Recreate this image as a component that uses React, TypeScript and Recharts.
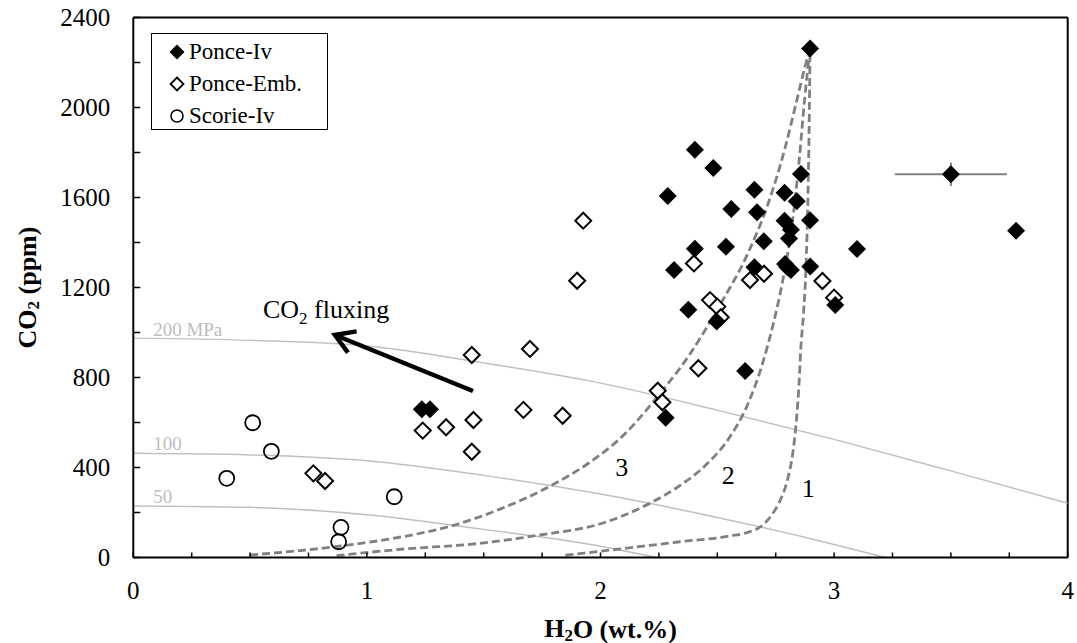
import React from 'react'
import {
  ComposedChart,
  Line,
  Scatter,
  XAxis,
  YAxis,
  ReferenceLine,
  ReferenceDot,
  Legend,
  ErrorBar,
} from 'recharts'

const FONT = '"Liberation Serif", "Times New Roman", Times, serif'

// melt inclusions, H2O (wt.%) vs CO2 (ppm)
const ponceIv = [
  { x: 2.897, y: 2262 }, { x: 2.404, y: 1812 }, { x: 2.483, y: 1731 }, { x: 2.288, y: 1607 },
  { x: 2.858, y: 1704 }, { x: 2.659, y: 1635 }, { x: 2.788, y: 1621 }, { x: 2.84, y: 1583 },
  { x: 2.56, y: 1549 }, { x: 2.67, y: 1534 }, { x: 2.788, y: 1497 }, { x: 2.897, y: 1499 },
  { x: 2.815, y: 1457 }, { x: 2.807, y: 1418 }, { x: 2.699, y: 1406 }, { x: 2.404, y: 1372 },
  { x: 2.537, y: 1381 }, { x: 3.098, y: 1371 }, { x: 2.315, y: 1278 }, { x: 2.659, y: 1290 },
  { x: 2.79, y: 1305 }, { x: 2.8, y: 1290 }, { x: 2.815, y: 1278 }, { x: 2.898, y: 1293 },
  { x: 2.376, y: 1101 }, { x: 2.497, y: 1049 }, { x: 3.005, y: 1122 }, { x: 2.619, y: 829 },
  { x: 2.279, y: 621 }, { x: 1.235, y: 659 }, { x: 1.27, y: 659 }, { x: 3.779, y: 1452 },
]
const ponceIvWithError = [{ x: 3.5, y: 1703, xErr: 0.24, yErr: 52 }]

const ponceEmb = [
  { x: 1.926, y: 1497 }, { x: 1.9, y: 1230 }, { x: 2.4, y: 1307 }, { x: 2.7, y: 1261 },
  { x: 2.64, y: 1233 }, { x: 2.95, y: 1229 }, { x: 3.0, y: 1155 }, { x: 2.469, y: 1144 },
  { x: 2.5, y: 1115 }, { x: 2.515, y: 1068 }, { x: 2.419, y: 841 }, { x: 2.245, y: 741 },
  { x: 2.265, y: 690 }, { x: 1.449, y: 900 }, { x: 1.698, y: 927 }, { x: 1.67, y: 656 },
  { x: 1.838, y: 630 }, { x: 1.456, y: 611 }, { x: 1.449, y: 470 }, { x: 1.239, y: 564 },
  { x: 1.339, y: 579 }, { x: 0.771, y: 374 }, { x: 0.821, y: 340 },
]

const scorieIv = [
  { x: 0.511, y: 599 }, { x: 0.591, y: 472 }, { x: 0.4, y: 352 },
  { x: 1.117, y: 270 }, { x: 0.889, y: 134 }, { x: 0.879, y: 70 },
]

// isobars (MPa)
const iso200 = [
  { x: 0, y: 975 }, { x: 0.5, y: 965 }, { x: 1, y: 940 }, { x: 1.5, y: 865 }, { x: 2, y: 775 },
  { x: 2.5, y: 655 }, { x: 3, y: 525 }, { x: 3.5, y: 385 }, { x: 4, y: 241 },
]
const iso100 = [
  { x: 0, y: 463 }, { x: 0.5, y: 456 }, { x: 1, y: 430 }, { x: 1.5, y: 365 },
  { x: 2, y: 282 }, { x: 2.5, y: 178 }, { x: 3, y: 58 }, { x: 3.22, y: 0 },
]
const iso50 = [
  { x: 0, y: 229 }, { x: 0.5, y: 223 }, { x: 1, y: 190 }, { x: 1.5, y: 125 },
  { x: 2, y: 50 }, { x: 2.24, y: 0 },
]

// degassing paths
const path1 = [
  { x: 1.85, y: 10 }, { x: 2.1, y: 40 }, { x: 2.34, y: 70 }, { x: 2.55, y: 95 }, { x: 2.64, y: 115 },
  { x: 2.69, y: 140 }, { x: 2.73, y: 185 }, { x: 2.77, y: 256 }, { x: 2.8, y: 344 }, { x: 2.825, y: 478 },
  { x: 2.84, y: 626 }, { x: 2.85, y: 774 }, { x: 2.857, y: 922 }, { x: 2.868, y: 1070 }, { x: 2.88, y: 1300 },
  { x: 2.888, y: 1600 }, { x: 2.893, y: 1900 }, { x: 2.897, y: 2260 },
]
const path2 = [
  { x: 0.87, y: 8 }, { x: 1.14, y: 36 }, { x: 1.484, y: 63 }, { x: 1.741, y: 100 }, { x: 2.0, y: 150 },
  { x: 2.2, y: 235 }, { x: 2.34, y: 320 }, { x: 2.45, y: 410 }, { x: 2.55, y: 530 }, { x: 2.63, y: 680 },
  { x: 2.69, y: 850 }, { x: 2.74, y: 1040 }, { x: 2.78, y: 1230 }, { x: 2.82, y: 1480 },
  { x: 2.85, y: 1760 }, { x: 2.875, y: 2050 }, { x: 2.897, y: 2260 },
]
const path3 = [
  { x: 0.5, y: 11 }, { x: 0.88, y: 50 }, { x: 1.14, y: 90 }, { x: 1.36, y: 140 }, { x: 1.57, y: 215 },
  { x: 1.78, y: 315 }, { x: 1.95, y: 420 }, { x: 2.1, y: 545 }, { x: 2.24, y: 710 }, { x: 2.38, y: 900 },
  { x: 2.51, y: 1120 }, { x: 2.63, y: 1350 }, { x: 2.72, y: 1580 }, { x: 2.79, y: 1820 },
  { x: 2.84, y: 2030 }, { x: 2.875, y: 2180 }, { x: 2.897, y: 2260 },
]

const xTicks = [0, 0.25, 0.5, 0.75, 1, 1.25, 1.5, 1.75, 2, 2.25, 2.5, 2.75, 3, 3.25, 3.5, 3.75, 4]
const yTicks = [0, 200, 400, 600, 800, 1000, 1200, 1400, 1600, 1800, 2000, 2200, 2400]
const yLabelled = [0, 400, 800, 1200, 1600, 2000, 2400]
const legendOrder = ['Ponce-Iv', 'Ponce-Emb.', 'Scorie-Iv']

const diamondPts = (cx: number, cy: number, r: number) =>
  `${cx},${cy - r} ${cx + r},${cy} ${cx},${cy + r} ${cx - r},${cy}`

const FilledDiamond = (p: any) => <polygon points={diamondPts(p.cx, p.cy, 9)} fill="#000" />
const OpenDiamond = (p: any) => (
  <polygon points={diamondPts(p.cx, p.cy, 8)} fill="#fff" stroke="#000" strokeWidth={2} />
)
const OpenCircle = (p: any) => (
  <circle cx={p.cx} cy={p.cy} r={7.5} fill="none" stroke="#000" strokeWidth={1.8} />
)

function XTick({ x, y, payload }: any) {
  const v = payload.value
  return (
    <g>
      <line x1={x} y1={y} x2={x} y2={y - 5} stroke="#000" strokeWidth={1.5} />
      {Number.isInteger(v) && (
        <text x={x} y={y + 33} textAnchor="middle" dominantBaseline="central"
          fontFamily={FONT} fontSize={25} fill="#000">{v}</text>
      )}
    </g>
  )
}

function YTick({ x, y, payload }: any) {
  const v = payload.value
  return (
    <g>
      <line x1={x} y1={y} x2={x + 7} y2={y} stroke="#000" strokeWidth={1.5} />
      {yLabelled.includes(v) && (
        <text x={x - 23} y={y} textAnchor="end" dominantBaseline="central"
          fontFamily={FONT} fontSize={25} fill="#000">{v}</text>
      )}
    </g>
  )
}

function XTitle(props: any) {
  const vb = props.viewBox || { x: 133.3, y: 557.5, width: 934.4 }
  return (
    <text x={vb.x + vb.width / 2 + 10} y={vb.y + 71} textAnchor="middle" dominantBaseline="central"
      fontFamily={FONT} fontSize={26} fontWeight="bold" fill="#000">
      H<tspan fontSize={17} dy={6}>2</tspan><tspan dy={-6}>O (wt.%)</tspan>
    </text>
  )
}

function YTitle(props: any) {
  const vb = props.viewBox || { y: 17.5, height: 540 }
  const cx = 27
  const cy = vb.y + vb.height / 2
  return (
    <text x={cx} y={cy} transform={`rotate(-90, ${cx}, ${cy})`} textAnchor="middle"
      dominantBaseline="central" fontFamily={FONT} fontSize={26} fontWeight="bold" fill="#000">
      CO<tspan fontSize={17} dy={6}>2</tspan><tspan dy={-6}> (ppm)</tspan>
    </text>
  )
}

function FluxLabel(props: any) {
  const vb = props.viewBox
  return (
    <text x={vb.x} y={vb.y} fontFamily={FONT} fontSize={26} fill="#000">
      CO<tspan fontSize={17} dy={6}>2</tspan><tspan dy={-6}> fluxing</tspan>
    </text>
  )
}

function Arrow(props: any) {
  const { x1, y1, x2, y2 } = props
  const ang = Math.atan2(y1 - y2, x1 - x2)
  const len = 22
  const a = ang - 0.55
  const b = ang + 0.55
  return (
    <g>
      <line x1={x1} y1={y1} x2={x2} y2={y2} stroke="#000" strokeWidth={4.5} />
      <polyline
        points={`${x2 + len * Math.cos(a)},${y2 + len * Math.sin(a)} ${x2},${y2} ${x2 + len * Math.cos(b)},${y2 + len * Math.sin(b)}`}
        fill="none" stroke="#000" strokeWidth={4.5} />
    </g>
  )
}

function LegendIcon({ name }: { name: string }) {
  if (name === 'Ponce-Iv') return <polygon points={diamondPts(8, 8, 7.5)} fill="#000" />
  if (name === 'Ponce-Emb.')
    return <polygon points={diamondPts(8, 8, 6.5)} fill="#fff" stroke="#000" strokeWidth={1.8} />
  return <circle cx={8} cy={8} r={6} fill="none" stroke="#000" strokeWidth={1.6} />
}

function LegendBox({ payload }: any) {
  const names = legendOrder.filter((n) => (payload || []).some((p: any) => p.value === n))
  return (
    <div style={{
      boxSizing: 'border-box', width: 177, height: 97, border: '1.5px solid #000',
      background: '#fff', paddingTop: 2,
    }}>
      {names.map((n) => (
        <div key={n} style={{ display: 'flex', alignItems: 'center', height: 32, paddingLeft: 17.5 }}>
          <svg width={16} height={16}><LegendIcon name={n} /></svg>
          <span style={{ marginLeft: 4, fontFamily: FONT, fontSize: 23, lineHeight: '32px', color: '#000' }}>{n}</span>
        </div>
      ))}
    </div>
  )
}

const isoLabel = { position: 'right' as const, offset: 0, fill: '#bdbdbd', fontSize: 19, fontFamily: FONT }
const numLabel = { position: 'center' as const, fill: '#000', fontSize: 26, fontFamily: FONT }

export default function App() {
  return (
    <div style={{ position: 'absolute', left: 0, top: 0, background: '#fff' }}>
      <ComposedChart width={1077} height={643} margin={{ top: 17.5, right: 9.3, bottom: 0, left: 0 }}>
        <XAxis type="number" dataKey="x" domain={[0, 4]} ticks={xTicks} interval={0}
          tickSize={0} tickMargin={0} tickLine={false} tick={(p: any) => <XTick {...p} />}
          axisLine={{ stroke: '#000', strokeWidth: 2 }} height={85.5} allowDataOverflow
          label={(p: any) => <XTitle {...p} />} />
        <YAxis type="number" dataKey="y" domain={[0, 2400]} ticks={yTicks} interval={0}
          tickSize={0} tickMargin={0} tickLine={false} tick={(p: any) => <YTick {...p} />}
          axisLine={{ stroke: '#000', strokeWidth: 2 }} width={133.3} allowDataOverflow
          label={(p: any) => <YTitle {...p} />} />

        <ReferenceLine y={2400} stroke="#000" strokeWidth={2} />
        <ReferenceLine x={4} stroke="#000" strokeWidth={2} />

        <Line data={iso200} dataKey="y" type="monotone" stroke="#c0c0c0" strokeWidth={1.5}
          dot={false} activeDot={false} legendType="none" isAnimationActive={false} />
        <Line data={iso100} dataKey="y" type="monotone" stroke="#c0c0c0" strokeWidth={1.5}
          dot={false} activeDot={false} legendType="none" isAnimationActive={false} />
        <Line data={iso50} dataKey="y" type="monotone" stroke="#c0c0c0" strokeWidth={1.5}
          dot={false} activeDot={false} legendType="none" isAnimationActive={false} />

        <Line data={path1} dataKey="y" type="monotone" stroke="#808080" strokeWidth={2.8}
          strokeDasharray="8 4" dot={false} activeDot={false} legendType="none" isAnimationActive={false} />
        <Line data={path2} dataKey="y" type="monotone" stroke="#808080" strokeWidth={2.8}
          strokeDasharray="8 4" dot={false} activeDot={false} legendType="none" isAnimationActive={false} />
        <Line data={path3} dataKey="y" type="monotone" stroke="#808080" strokeWidth={2.8}
          strokeDasharray="8 4" dot={false} activeDot={false} legendType="none" isAnimationActive={false} />

        <ReferenceLine segment={[{ x: 1.454, y: 740 }, { x: 0.863, y: 989 }]} shape={(p: any) => <Arrow {...p} />} />

        <ReferenceDot x={0.085} y={1016} r={0} label={{ ...isoLabel, value: '200 MPa' }} />
        <ReferenceDot x={0.085} y={508} r={0} label={{ ...isoLabel, value: '100' }} />
        <ReferenceDot x={0.085} y={270} r={0} label={{ ...isoLabel, value: '50' }} />
        <ReferenceDot x={0.555} y={1064} r={0} label={{ content: (p: any) => <FluxLabel {...p} /> }} />
        <ReferenceDot x={2.091} y={404} r={0} label={{ ...numLabel, value: '3' }} />
        <ReferenceDot x={2.547} y={367} r={0} label={{ ...numLabel, value: '2' }} />
        <ReferenceDot x={2.889} y={308} r={0} label={{ ...numLabel, value: '1' }} />

        <Scatter name="Scorie-Iv" data={scorieIv} dataKey="y" shape={OpenCircle} isAnimationActive={false} />
        <Scatter name="Ponce-Emb." data={ponceEmb} dataKey="y" shape={OpenDiamond} isAnimationActive={false} />
        <Scatter name="Ponce-Iv" data={ponceIv} dataKey="y" shape={FilledDiamond} isAnimationActive={false} />
        <Scatter data={ponceIvWithError} dataKey="y" shape={FilledDiamond} legendType="none" isAnimationActive={false}>
          <ErrorBar dataKey="xErr" direction="x" width={0} stroke="#808080" strokeWidth={2} isAnimationActive={false} />
          <ErrorBar dataKey="yErr" direction="y" width={0} stroke="#808080" strokeWidth={2} isAnimationActive={false} />
        </Scatter>

        <Legend layout="vertical" align="center" verticalAlign="middle"
          wrapperStyle={{ left: 150.5, top: 32.5, width: 177, height: 97 }}
          content={(p: any) => <LegendBox {...p} />} />
      </ComposedChart>
    </div>
  )
}
